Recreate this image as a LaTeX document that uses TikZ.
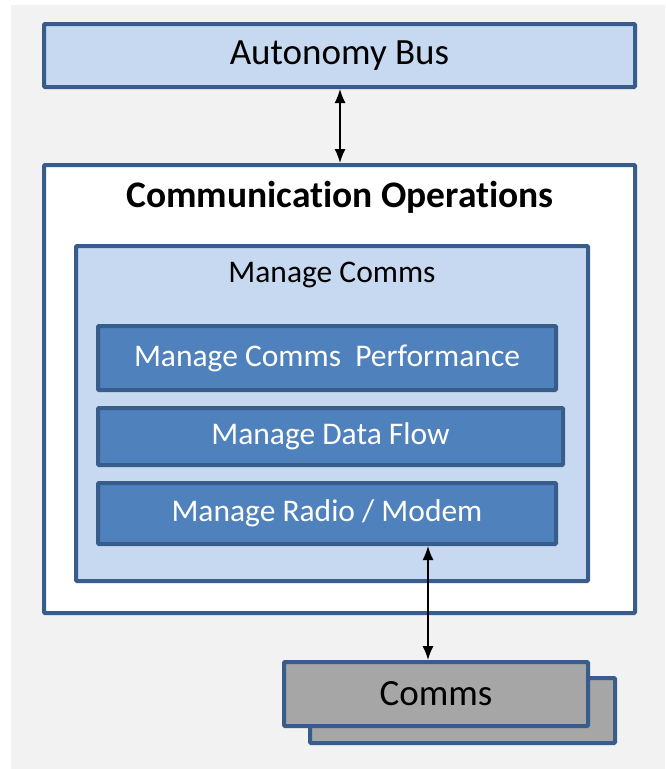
\documentclass[tikz,border=0pt]{standalone}
\usepackage{fontspec}
\setmainfont{Carlito}
\usetikzlibrary{arrows.meta}
\definecolor{edgeblue}{RGB}{56,93,138}
\definecolor{paleblue}{RGB}{198,217,240}
\definecolor{midblue}{RGB}{79,129,189}
\definecolor{boxgray}{RGB}{166,166,166}
\definecolor{pagegray}{RGB}{242,242,242}

\begin{document}
\begin{tikzpicture}[x=1pt, y=-1pt,
    every node/.style={rectangle, draw=edgeblue, line width=4pt, rounded corners=1pt, inner sep=0pt},
    bigtext/.style={font=\fontsize{37}{40}\selectfont},
    smalltext/.style={font=\fontsize{31.5}{34}\selectfont},
    pale/.style={fill=paleblue},
    task/.style={fill=midblue, text=white, smalltext},
    device/.style={fill=boxgray, bigtext},
    plain/.style={draw=none, fill=none},
    link/.style={draw=black, line width=1.5pt, {Latex[length=14pt,width=11pt]}-{Latex[length=14pt,width=11pt]}}]
			\useasboundingbox (0,0) rectangle (665,769);
			\fill[pagegray] (11,5) rectangle (665,769);
			
			\node[pale, bigtext, minimum width=591, minimum height=63] (bus) at (339.5,55.5){Autonomy Bus};
			
			\node[fill=white, minimum width=591, minimum height=448] (ops) at (339.5,389){};
			\node[plain, font=\fontsize{37.5}{40}\selectfont\bfseries\addfontfeatures{Ligatures=NoCommon}] (opstitle) at (340,197){Communication Operations};
			
			\node[pale, minimum width=512, minimum height=335] (mgr) at (332,413.5){};
			\node[plain, smalltext] (mgrtitle) at (332,275){Manage Comms};
			
			\node[task, minimum width=458, minimum height=64] (perf) at (327,358){Manage Comms\ \ Performance};
			\node[task, minimum width=465, minimum height=57] (flow) at (330.5,436.5){Manage Data Flow};
			\node[task, minimum width=458, minimum height=61] (radio) at (327,513.5){Manage Radio / Modem};
			
			\node[device, minimum width=305, minimum height=65] (comms2) at (462.5,710.5){};
			\node[device, minimum width=304, minimum height=64] (comms1) at (436,694){Comms};
			
			\coordinate (x1) at (340,0);
			\coordinate (x2) at (428,0);
			\path (bus.south -| x1) edge[link] (ops.north -| x1);
			\path (radio.south -| x2) edge[link] (comms1.north -| x2);
\end{tikzpicture}
\end{document}
